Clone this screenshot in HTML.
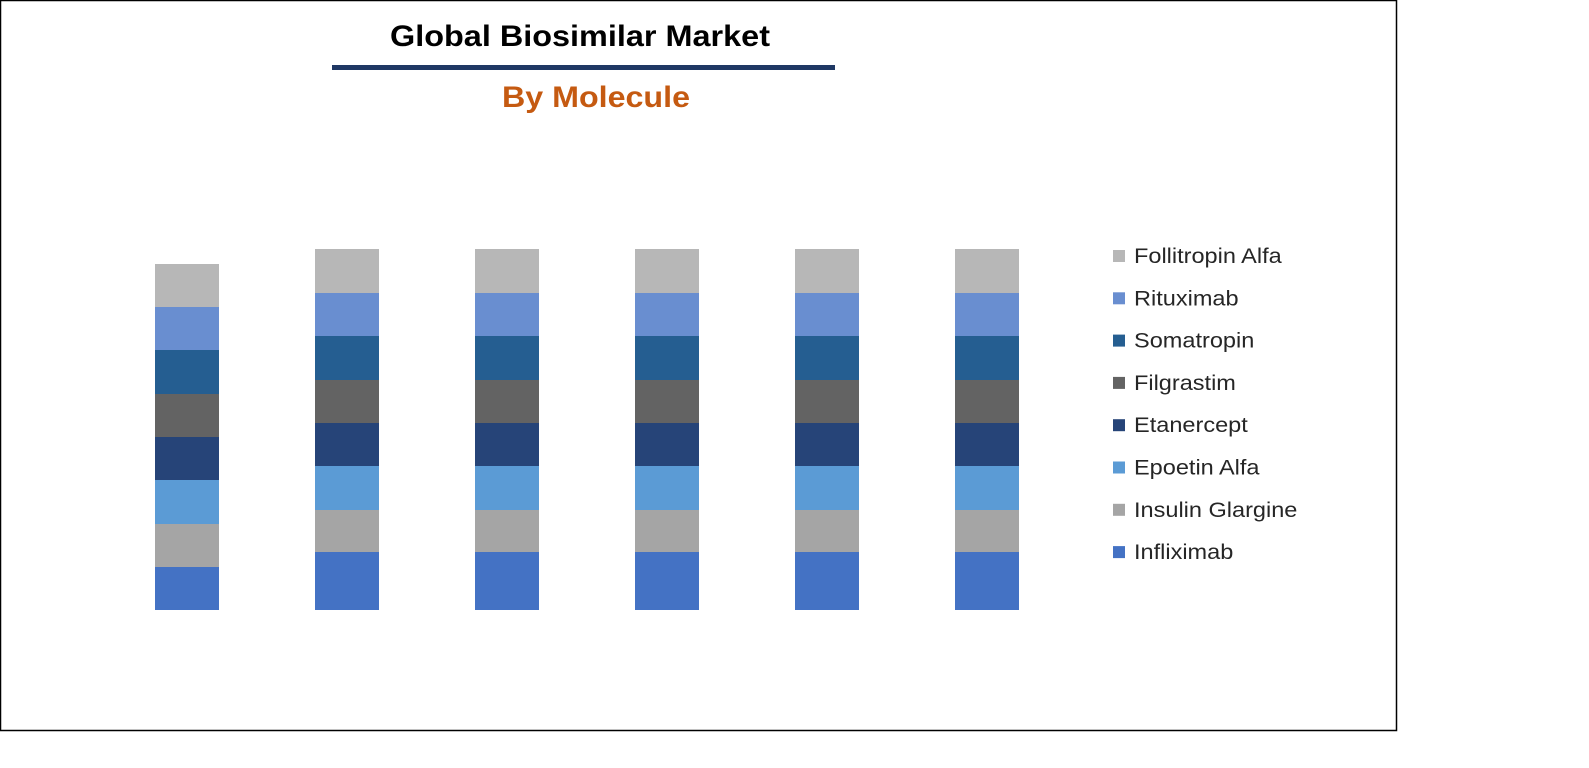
<!DOCTYPE html>
<html><head><meta charset="utf-8"><style>
body{margin:0;background:#fff;width:1589px;height:763px;overflow:hidden;font-family:"Liberation Sans",sans-serif}
</style></head><body>
<svg width="1589" height="763">
<rect x="0.5" y="0.5" width="1396" height="730" fill="#fff" stroke="#000" stroke-width="1.5"/>
<text x="390" y="46" textLength="380" lengthAdjust="spacingAndGlyphs" font-size="30" font-weight="bold" fill="#000">Global Biosimilar Market</text>
<rect x="332" y="65" width="503" height="5" fill="#1F3864"/>
<text x="502" y="107" textLength="188" lengthAdjust="spacingAndGlyphs" font-size="30" font-weight="bold" fill="#C55A11">By Molecule</text>
<g id="bars"></g>
<g id="legend"></g>
</svg>
<script>
const series = ["Infliximab","Insulin Glargine","Epoetin Alfa","Etanercept","Filgrastim","Somatropin","Rituximab","Follitropin Alfa"];
const colors = ["#4472C4","#A5A5A5","#5B9BD5","#264478","#636363","#255E91","#698ED0","#B7B7B7"];
const categories = ["2019","2020","2021","2022","2023","2024"];
const values = [
 [43,43,44,43,43,44,43,43],
 [58,42,44,43,43,44,43,44],
 [58,42,44,43,43,44,43,44],
 [58,42,44,43,43,44,43,44],
 [58,42,44,43,43,44,43,44],
 [58,42,44,43,43,44,43,44]
];
const NS="http://www.w3.org/2000/svg";
const baseY=610, scale=1, x0=155, step=160, bw=64;
const yS=v=>v*scale;
const xS=i=>x0+i*step;
const bars=document.getElementById('bars');
values.forEach((row,i)=>{
 let y=baseY;
 row.forEach((v,j)=>{
  const h=yS(v); y-=h;
  const r=document.createElementNS(NS,'rect');
  r.setAttribute('x',xS(i));r.setAttribute('y',y);r.setAttribute('width',bw);r.setAttribute('height',h);r.setAttribute('fill',colors[j]);
  
  
  bars.appendChild(r);
 });
});
const lg=document.getElementById('legend');
series.slice().reverse().forEach((s,k)=>{
 const j=series.length-1-k;
 const cy=256+k*42.3;
 const g=document.createElementNS(NS,'g');
 
 
 const r=document.createElementNS(NS,'rect');
 r.setAttribute('x',1113);r.setAttribute('y',cy-6);r.setAttribute('width',12);r.setAttribute('height',12);r.setAttribute('fill',colors[j]);
 const t=document.createElementNS(NS,'text');
 t.setAttribute('x',1134);t.setAttribute('y',cy+7);t.setAttribute('font-size','21');t.setAttribute('fill','#262626');
 t.textContent=s;
 g.appendChild(r);g.appendChild(t);lg.appendChild(g);
 const w=t.getComputedTextLength();
 t.setAttribute('textLength', (w*1.12).toFixed(1));
 t.setAttribute('lengthAdjust','spacingAndGlyphs');
});
</script>
</body></html>
